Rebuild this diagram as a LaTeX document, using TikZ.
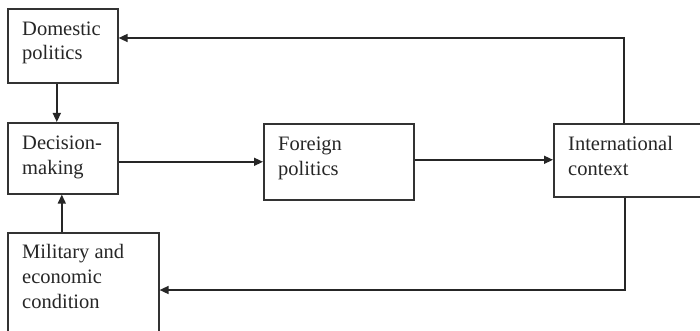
\documentclass[tikz,border=0pt]{standalone}
\usepackage{fontspec}
\setmainfont{Liberation Serif}
\usetikzlibrary{arrows.meta}
\begin{document}
\begin{tikzpicture}[x=1pt,y=-1pt,
  boxline/.style={draw=black!80,line width=1.6pt},
  lbl/.style={anchor=base west,inner sep=0pt,align=left,
    font=\fontsize{20.5}{24.7}\selectfont,text=black!85},
  conn/.style={draw=black!85,line width=1.5pt},
  arr/.style={conn,-{Triangle[length=9pt,width=8pt]}}]
\useasboundingbox (0,0) rectangle (700,331);
\clip (0,0) rectangle (700,331);
\fill[white] (0,0) rectangle (700,331);
% boxes
\node[boxline,inner sep=0pt,minimum width=110pt,minimum height=74pt,anchor=north west] (dom) at (7,8) {};
\node[boxline,inner sep=0pt,minimum width=110pt,minimum height=71pt,anchor=north west] (dec) at (7,122) {};
\node[boxline,inner sep=0pt,minimum width=150pt,minimum height=76pt,anchor=north west] (for) at (263,123) {};
\node[boxline,inner sep=0pt,minimum width=150pt,minimum height=73pt,anchor=north west] (int) at (553,123) {};
\node[boxline,inner sep=0pt,minimum width=151pt,minimum height=104pt,anchor=north west] (mil) at (7,232) {};
% labels (anchored at the baseline of the last line)
\node[lbl] (tdom) at (22,60) {Domestic\\politics};
\node[lbl] (tdec) at (22,174) {Decision-\\making};
\node[lbl] (tfor) at (278,175) {Foreign\\politics};
\node[lbl] (tint) at (568,175) {International\\context};
\node[lbl] (tmil) at (22,308) {Military and\\economic\\condition};
% connectors
\coordinate (c1) at (624,38);
\coordinate (c2) at (625,290);
\draw[arr] ([xshift=-6pt]dom.south) -- ([xshift=-6pt]dec.north);
\draw[arr] ([xshift=-1pt]mil.north -| dec.south) -- ([xshift=-1pt]dec.south);
\draw[arr] (dec.east |- for.west) -- (for.west);
\draw[arr] ([yshift=2pt]for.east) -- ([yshift=2pt]for.east -| int.west);
\draw[arr] (int.north -| c1) -- (c1) -- (c1 -| dom.east);
\draw[arr] (int.south -| c2) -- (c2) -- (c2 -| mil.east);
\end{tikzpicture}
\end{document}
